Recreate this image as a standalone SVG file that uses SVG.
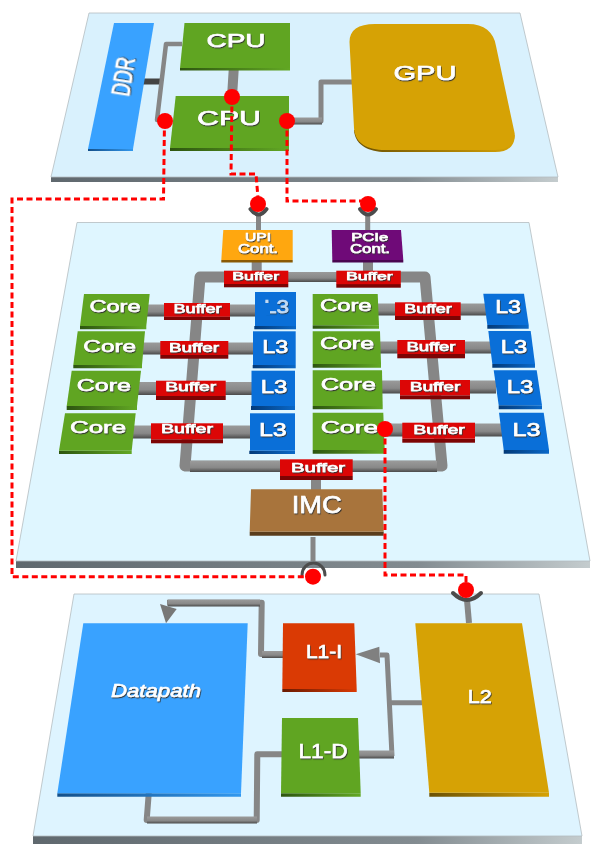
<svg xmlns="http://www.w3.org/2000/svg" width="603" height="852" viewBox="0 0 603 852">
<style>
text{font-family:"Liberation Sans",Arial,sans-serif;fill:#fff;stroke:#fff;stroke-width:.6;text-anchor:middle;filter:url(#ts)}
.plane{stroke:#b4bcc0;stroke-width:.8}
.edge{fill:url(#gEdge)}
.gr{fill:#60a522}.grs{fill:url(#gGreen)}
.bl{fill:#0a6fd8}.bls{fill:url(#gBlue)}
.re{fill:#dc0606}.res{fill:#7d0404}
.sky{fill:#39a2ff}.skys{fill:url(#gSky)}
.go{fill:#d6a205}.gos{fill:url(#gGold)}
.hw{fill:url(#gWire)}
.wire{fill:none;stroke:#868686;stroke-linejoin:round}
.cup{fill:none;stroke:#4c4c4c;stroke-width:4;stroke-linecap:round}
.red{fill:none;stroke:#f00;stroke-width:3;stroke-dasharray:6 3.500}
.dot{fill:#f00}
</style>
<defs>
<filter id="ts" x="-10%" y="-20%" width="120%" height="150%"><feDropShadow dx=".7" dy="1.100" stdDeviation=".35" flood-color="#333"/></filter>
<linearGradient id="gEdge"><stop offset="0" stop-color="#5f686e"/><stop offset=".7" stop-color="#838c91"/><stop offset="1" stop-color="#c4ccce"/></linearGradient>
<linearGradient id="gGreen"><stop offset="0" stop-color="#2d5510"/><stop offset="1" stop-color="#62a824"/></linearGradient>
<linearGradient id="gBlue"><stop offset="0" stop-color="#033a78"/><stop offset="1" stop-color="#0a68c8"/></linearGradient>
<linearGradient id="gSky"><stop offset="0" stop-color="#14508a"/><stop offset="1" stop-color="#3298ee"/></linearGradient>
<linearGradient id="gGold"><stop offset="0" stop-color="#6a5003"/><stop offset="1" stop-color="#d6a205"/></linearGradient>
<linearGradient id="gRed"><stop offset="0" stop-color="#6a1a02"/><stop offset="1" stop-color="#da3a04"/></linearGradient>
<linearGradient id="gWire" x2="0" y2="1"><stop offset="0" stop-color="#9a9a9a"/><stop offset=".6" stop-color="#888"/><stop offset="1" stop-color="#4a4a4a"/></linearGradient>
</defs>

<g id="planes">
<polygon class="edge" points="51,177 558,177 558,182 51,182"/>
<polygon class="plane" fill="#d9f1fd" points="89,13 520,13 558,177 51,177"/>
<polygon class="edge" points="16,561 590,561 590,568 16,568"/>
<polygon class="plane" fill="#dff6ff" points="77,222.500 529,222.500 590,561 16,561"/>
<polygon class="edge" points="33,836 582,836 582,844 33,844"/>
<polygon class="plane" fill="#def4ff" points="74,594 539,594 582,836 33,836"/>
</g>

<g id="connectors">
<rect x="143" y="78.500" width="17" height="6" fill="#444"/>
<path class="wire" stroke-width="4.500" d="M182 44H166L157 120H166"/>
<path class="wire" stroke-width="10" d="M234 65L232 97"/>
<path class="wire" stroke-width="5" d="M288 121H321V82H352"/>
<rect class="hw" x="289" y="117.500" width="33" height="7"/>

<path class="wire" stroke-width="11" d="M230 277H200L185 466H320"/>
<path class="wire" stroke-width="11" d="M400 277H425L442 466H320"/>
<rect class="hw" x="288" y="272" width="50" height="10"/>
<rect class="hw" x="190" y="461" width="247" height="11"/>
<path class="wire" stroke-width="10" d="M256.700 260V272M368 260V272M316 478V491"/>
<path class="wire" stroke-width="5" d="M258.500 215V231M367.700 215V231M313 537V561"/>
<path class="wire" stroke-width="6" d="M467 600L469 623"/>

<rect class="hw" x="147" y="304.500" width="110" height="12"/>
<rect class="hw" x="143" y="342.500" width="112" height="12"/>
<rect class="hw" x="138" y="382" width="115" height="13"/>
<rect class="hw" x="132" y="425.500" width="120" height="13"/>
<rect class="hw" x="378" y="303.500" width="108" height="12"/>
<rect class="hw" x="380" y="341.500" width="112" height="12"/>
<rect class="hw" x="382" y="380.500" width="114" height="13"/>
<rect class="hw" x="384" y="423.500" width="118" height="13"/>

<path class="wire" stroke-width="6" d="M284 654H261L261.700 602.700H167"/>
<rect class="hw" x="262" y="651" width="22" height="7"/>
<rect class="hw" x="168" y="599.500" width="92" height="7"/>
<polygon fill="#777" points="160,604 176.700,609 166,623.300"/>
<path class="wire" stroke-width="5" d="M380 655H387L392 756M391 702.700H422"/>
<polygon fill="#808080" points="355.700,654.300 379.300,646.700 380,663.300"/>
<rect class="hw" x="359" y="750.500" width="35" height="8"/>
<path class="wire" stroke-width="6" d="M282 754.300H257.300L256.700 820H146.700L149 790"/>
<rect class="hw" x="147" y="816.500" width="110" height="7"/>
</g>

<g id="ddr"><polygon class="skys" points="88,149 133,149 133,151 88,151"/><polygon class="sky" points="114,23 154,23 133,149 88,149"/><text transform="translate(132,78) rotate(-81)" font-size="26" textLength="39" lengthAdjust="spacingAndGlyphs">DDR</text></g>
<g id="cpu1"><polygon class="grs" points="180,68 290,68 290,70.500 180,70.500"/><polygon class="gr" points="184.500,23 290,23 290,68 180,68"/><text x="236" y="46.500" font-size="18" textLength="59" lengthAdjust="spacingAndGlyphs">CPU</text></g>
<g id="cpu2"><polygon class="grs" points="170,148 289,148 289,151 170,151"/><polygon class="gr" points="175.700,96 289,96 289,148 170,148"/><text x="229" y="125" font-size="21" textLength="64" lengthAdjust="spacingAndGlyphs">CPU</text></g>
<g id="gpu"><path class="gos" d="M354 130C355 146 370 152 385 152H495C508 152 515 146 514.600 135Z"/><path class="go" d="M349.500 42C349.500 30 358 24 375 24H468C484 24 494 32 496 46L514.600 133C516 143 508 150 495 150H385C368 150 355 144 354 128Z"/><text x="425" y="80" font-size="20" textLength="63" lengthAdjust="spacingAndGlyphs">GPU</text></g>

<g id="upi"><polygon fill="#8a5a05" points="221.300,260 292.700,260 292.700,262.500 221.300,262.500"/><polygon fill="#ffa70f" points="223.300,230 292.700,230 292.700,260 221.300,260"/><text x="258" y="240.700" font-size="11" textLength="26" lengthAdjust="spacingAndGlyphs">UPI</text><text x="258" y="252.700" font-size="12" textLength="40" lengthAdjust="spacingAndGlyphs">Cont.</text></g>
<g id="pcie"><polygon fill="#4a0650" points="332.300,260 403.300,260 403.300,262.500 332.300,262.500"/><polygon fill="#6f0a78" points="331.700,230 401,230 403.300,260 332.300,260"/><text x="369.700" y="241" font-size="11" textLength="37" lengthAdjust="spacingAndGlyphs">PCIe</text><text x="370" y="252.700" font-size="12" textLength="40" lengthAdjust="spacingAndGlyphs">Cont.</text></g>

<g id="buffer-top-l"><rect class="res" x="224" y="284" width="64.300" height="3.300"/><rect class="re" x="224" y="270.700" width="64.300" height="13.300"/><text x="255.700" y="280" font-size="11" textLength="46.700" lengthAdjust="spacingAndGlyphs">Buffer</text></g>
<g id="buffer-top-r"><rect class="res" x="336.300" y="284" width="64.500" height="3.700"/><rect class="re" x="336.300" y="270.700" width="64.500" height="13.500"/><text x="369.300" y="280" font-size="11" textLength="46.700" lengthAdjust="spacingAndGlyphs">Buffer</text></g>

<g id="core-l1"><polygon class="grs" points="80,326 146.300,326 146.300,329.300 80,329.300"/><polygon class="gr" points="84,294 149.700,294 146.300,326 80,326"/><text x="115" y="312" font-size="16" textLength="51" lengthAdjust="spacingAndGlyphs">Core</text></g>
<g id="core-l2"><polygon class="grs" points="73.300,365 142,365 142,368.300 73.300,368.300"/><polygon class="gr" points="77.700,331.300 145,331.300 142,365 73.300,365"/><text x="109.700" y="351.700" font-size="16" textLength="52.700" lengthAdjust="spacingAndGlyphs">Core</text></g>
<g id="core-l3"><polygon class="grs" points="66.700,406 137,406 137,410 66.700,410"/><polygon class="gr" points="71.700,370.700 141,370.700 137,406 66.700,406"/><text x="103.800" y="390.700" font-size="16" textLength="54" lengthAdjust="spacingAndGlyphs">Core</text></g>
<g id="core-l4"><polygon class="grs" points="59,450.700 131.700,450.700 131.700,454 59,454"/><polygon class="gr" points="65,413.300 135.700,413.300 131.700,450.700 59,450.700"/><text x="98" y="433" font-size="16.500" textLength="56" lengthAdjust="spacingAndGlyphs">Core</text></g>

<g id="buffer-l1"><rect class="res" x="164" y="316.700" width="66" height="3.300"/><rect class="re" x="164" y="303" width="66" height="13.700"/><text x="197.500" y="312.700" font-size="12" textLength="48" lengthAdjust="spacingAndGlyphs">Buffer</text></g>
<g id="buffer-l2"><rect class="res" x="160.300" y="355" width="68" height="3.700"/><rect class="re" x="160.300" y="341" width="68" height="14"/><text x="194" y="351.700" font-size="12" textLength="50" lengthAdjust="spacingAndGlyphs">Buffer</text></g>
<g id="buffer-l3"><rect class="res" x="156" y="396" width="69.700" height="4"/><rect class="re" x="156" y="380.700" width="69.700" height="15.300"/><text x="190.700" y="390.700" font-size="12.500" textLength="51" lengthAdjust="spacingAndGlyphs">Buffer</text></g>
<g id="buffer-l4"><rect class="res" x="151" y="439.300" width="72" height="4"/><rect class="re" x="151" y="423.300" width="72" height="16"/><text x="187" y="433.300" font-size="13" textLength="52" lengthAdjust="spacingAndGlyphs">Buffer</text></g>

<g id="l3-l1"><rect class="bls" x="254.300" y="326" width="41.700" height="3.300"/><rect class="bl" x="255" y="292" width="41" height="34"/><text x="276.500" y="313.300" font-size="18" textLength="25" lengthAdjust="spacingAndGlyphs" opacity=".75">L3</text><rect class="bl" x="262" y="303" width="8" height="12"/></g>
<g id="l3-l2"><rect class="bls" x="252.700" y="365" width="43" height="3.300"/><rect class="bl" x="253" y="331.300" width="42.700" height="33.700"/><text x="275.300" y="353" font-size="18" textLength="26" lengthAdjust="spacingAndGlyphs">L3</text></g>
<g id="l3-l3"><rect class="bls" x="251" y="406" width="44" height="4"/><rect class="bl" x="251.500" y="370.700" width="43.500" height="35.300"/><text x="274" y="392.700" font-size="18.500" textLength="26.600" lengthAdjust="spacingAndGlyphs">L3</text></g>
<g id="l3-l4"><rect class="bls" x="249.300" y="450.700" width="45.700" height="3.300"/><rect class="bl" x="250" y="413.300" width="45" height="37.400"/><text x="272.800" y="436" font-size="19" textLength="27.700" lengthAdjust="spacingAndGlyphs">L3</text></g>

<g id="core-r1"><polygon class="grs" points="312.700,325.300 379,325.300 379,328.700 312.700,328.700"/><polygon class="gr" points="312.700,294 377.700,294 379,325.300 312.700,325.300"/><text x="345.800" y="310.700" font-size="16" textLength="51.700" lengthAdjust="spacingAndGlyphs">Core</text></g>
<g id="core-r2"><polygon class="grs" points="312.700,364 381,364 381,367.700 312.700,367.700"/><polygon class="gr" points="312.700,331.300 380,331.300 381,364 312.700,364"/><text x="347" y="349.300" font-size="16" textLength="54" lengthAdjust="spacingAndGlyphs">Core</text></g>
<g id="core-r3"><polygon class="grs" points="312.700,406 382.700,406 382.700,409.300 312.700,409.300"/><polygon class="gr" points="312.700,370.300 382,370.300 382.700,406 312.700,406"/><text x="348.300" y="390" font-size="16" textLength="55" lengthAdjust="spacingAndGlyphs">Core</text></g>
<g id="core-r4"><polygon class="grs" points="312.700,450 384.700,450 384.700,453.700 312.700,453.700"/><polygon class="gr" points="312.700,412.700 383.300,412.700 384.700,450 312.700,450"/><text x="349.500" y="433.300" font-size="16.500" textLength="57.700" lengthAdjust="spacingAndGlyphs">Core</text></g>

<g id="buffer-r1"><rect class="res" x="395" y="316" width="65.700" height="4"/><rect class="re" x="395" y="302.300" width="65.700" height="13.700"/><text x="428" y="312.700" font-size="12" textLength="47.700" lengthAdjust="spacingAndGlyphs">Buffer</text></g>
<g id="buffer-r2"><rect class="res" x="397.300" y="354" width="67.700" height="4.300"/><rect class="re" x="397.300" y="340" width="67.700" height="14"/><text x="431" y="351" font-size="12" textLength="49" lengthAdjust="spacingAndGlyphs">Buffer</text></g>
<g id="buffer-r3"><rect class="res" x="400" y="395.300" width="70" height="4"/><rect class="re" x="400" y="380" width="70" height="15.300"/><text x="435" y="391" font-size="12.500" textLength="50.700" lengthAdjust="spacingAndGlyphs">Buffer</text></g>
<g id="buffer-r4"><rect class="res" x="402.300" y="438.700" width="72.700" height="4"/><rect class="re" x="402.300" y="422.700" width="72.700" height="16"/><text x="439" y="434" font-size="13" textLength="51.700" lengthAdjust="spacingAndGlyphs">Buffer</text></g>

<g id="l3-r1"><polygon class="bls" points="487.300,325 528.700,325 528.700,328.700 487.300,328.700"/><polygon class="bl" points="483.300,293.700 524,293.700 528.700,325 487.300,325"/><text x="508" y="312.700" font-size="18" textLength="25.700" lengthAdjust="spacingAndGlyphs">L3</text></g>
<g id="l3-r2"><polygon class="bls" points="492.300,364 535,364 535,367.700 492.300,367.700"/><polygon class="bl" points="488.300,331 530.700,331 535,364 492.300,364"/><text x="514" y="352.700" font-size="18" textLength="26.300" lengthAdjust="spacingAndGlyphs">L3</text></g>
<g id="l3-r3"><polygon class="bls" points="498.700,405.300 542,405.300 542,409.300 498.700,409.300"/><polygon class="bl" points="493.700,370.300 536.700,370.300 542,405.300 498.700,405.300"/><text x="520" y="392.700" font-size="18.500" textLength="26.600" lengthAdjust="spacingAndGlyphs">L3</text></g>
<g id="l3-r4"><polygon class="bls" points="503.700,450 549,450 549,453.700 503.700,453.700"/><polygon class="bl" points="499,412.700 543.700,412.700 549,450 503.700,450"/><text x="526.500" y="436" font-size="19" textLength="28" lengthAdjust="spacingAndGlyphs">L3</text></g>

<g id="buffer-bottom"><rect class="res" x="280" y="476" width="72.700" height="4"/><rect class="re" x="280" y="459.300" width="72.700" height="16.700"/><text x="318" y="471.700" font-size="13" textLength="54" lengthAdjust="spacingAndGlyphs">Buffer</text></g>
<g id="imc"><polygon fill="#5a3d1c" points="249.700,531.700 383.700,531.700 383.700,535.700 249.700,535.700"/><polygon fill="#a8743c" points="251,489.300 382.300,489.300 383.700,531.700 249.700,531.700"/><text x="316.700" y="513.300" font-size="23" textLength="50" lengthAdjust="spacingAndGlyphs">IMC</text></g>

<g id="datapath"><polygon class="skys" points="57.300,793.300 241,793.300 241,796.700 57.300,796.700"/><polygon class="sky" points="83.300,623.300 247.700,623.300 241,793.300 57.300,793.300"/><text x="156" y="696.700" font-size="19" font-style="italic" textLength="90" lengthAdjust="spacingAndGlyphs">Datapath</text></g>
<g id="l1-i"><polygon fill="url(#gRed)" points="282.300,689 356.700,689 356.700,692 282.300,692"/><polygon fill="#da3a04" points="283,623.300 354.300,623.300 356.700,689 282.300,689"/><text x="324" y="658" font-size="18" textLength="36" lengthAdjust="spacingAndGlyphs">L1-I</text></g>
<g id="l1-d"><polygon class="grs" points="281,793.300 360.700,793.300 360.700,796.700 281,796.700"/><polygon class="gr" points="282,718 358,718 360.700,793.300 281,793.300"/><text x="323" y="757.700" font-size="20" textLength="49" lengthAdjust="spacingAndGlyphs">L1-D</text></g>
<g id="l2"><polygon class="gos" points="429.300,792.700 549,792.700 549,796.700 429.300,796.700"/><polygon class="go" points="415.300,623.300 522,623.300 549,792.700 429.300,792.700"/><text x="479.700" y="703" font-size="19" textLength="24" lengthAdjust="spacingAndGlyphs">L2</text></g>

<g id="sockets">
<path class="cup" d="M250.500 209Q258.500 220 266.500 209"/>
<path class="cup" d="M360 209Q368 220 376 209"/>
<path class="cup" style="stroke-width:3" d="M302 575A11.500 12 0 0 1 325 575"/>
<path class="cup" d="M453 593Q467 607 481 593"/>
</g>

<g id="links">
<path class="red" d="M164.500 121L163.500 199H12V576.700H313"/>
<path class="red" d="M232 97L231 174H256L258.500 204"/>
<path class="red" d="M287 121V201H369"/>
<path class="red" d="M385 429V575H466V590"/>
<circle class="dot" cx="165" cy="121" r="8"/>
<circle class="dot" cx="232" cy="97" r="8"/>
<circle class="dot" cx="287" cy="121" r="8"/>
<circle class="dot" cx="258" cy="204" r="8"/>
<circle class="dot" cx="368" cy="204" r="8"/>
<circle class="dot" cx="385" cy="429" r="8"/>
<circle class="dot" cx="313" cy="576.700" r="8"/>
<circle class="dot" cx="466" cy="590" r="8"/>
</g>
</svg>
